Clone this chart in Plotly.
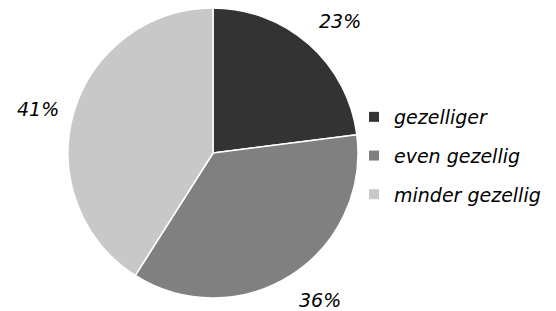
import math
import plotly.graph_objects as go

categories = ["gezelliger", "even gezellig", "minder gezellig"]
values = [23, 36, 41]
colors = ["#333333", "#808080", "#c8c8c8"]

W, H = 556, 311
# page body adds an 8px margin, so figure coords = window coords - 8
cx, cy, R = 205, 145, 145
FONT = "DejaVu Sans, Verdana, sans-serif"

fig = go.Figure(go.Pie(
    labels=categories, values=values, sort=False, direction="clockwise",
    rotation=0, marker=dict(colors=colors, line=dict(color="white", width=1.5)),
    textinfo="none", hoverinfo="label+percent", showlegend=False,
    domain=dict(x=[(cx - R) / W, (cx + R) / W], y=[1 - (cy + R) / H, 1 - (cy - R) / H]),
))

# percentage labels positioned outside along each slice's mid-angle
total = sum(values)
cum = 0
for v in values:
    mid = (cum + v / 2) / total * 2 * math.pi
    cum += v
    s, c = math.sin(mid), math.cos(mid)
    x = cx + 1.10 * R * s
    y = cy - 1.10 * R * c
    if abs(c) < 0.5:
        ya = "middle"
    else:
        ya = "bottom" if c > 0 else "top"
    fig.add_annotation(x=x / W, y=1 - y / H, xref="paper", yref="paper",
                       text=f"{round(v / total * 100)}%", showarrow=False,
                       font=dict(family=FONT, size=19, color="black", style="italic"),
                       xanchor="left" if s > 0 else "right", yanchor=ya, borderpad=0)

# legend entries (one legend group each to control vertical spacing)
for name, col in zip(categories, colors):
    fig.add_trace(go.Scatter(x=[None], y=[None], mode="markers", name=name,
                             legendgroup=name,
                             marker=dict(symbol="square", size=10, color=col)))

fig.update_layout(
    width=W, height=H, margin=dict(l=0, r=0, t=0, b=0),
    paper_bgcolor="white", plot_bgcolor="white",
    xaxis=dict(visible=False), yaxis=dict(visible=False),
    showlegend=True,
    legend=dict(x=346 / W, y=1 - 148 / H, xanchor="left", yanchor="middle",
                font=dict(family=FONT, size=19, color="black", style="italic"),
                tracegroupgap=11, itemwidth=30, bgcolor="rgba(0,0,0,0)"),
)

fig.write_html("out.html")
